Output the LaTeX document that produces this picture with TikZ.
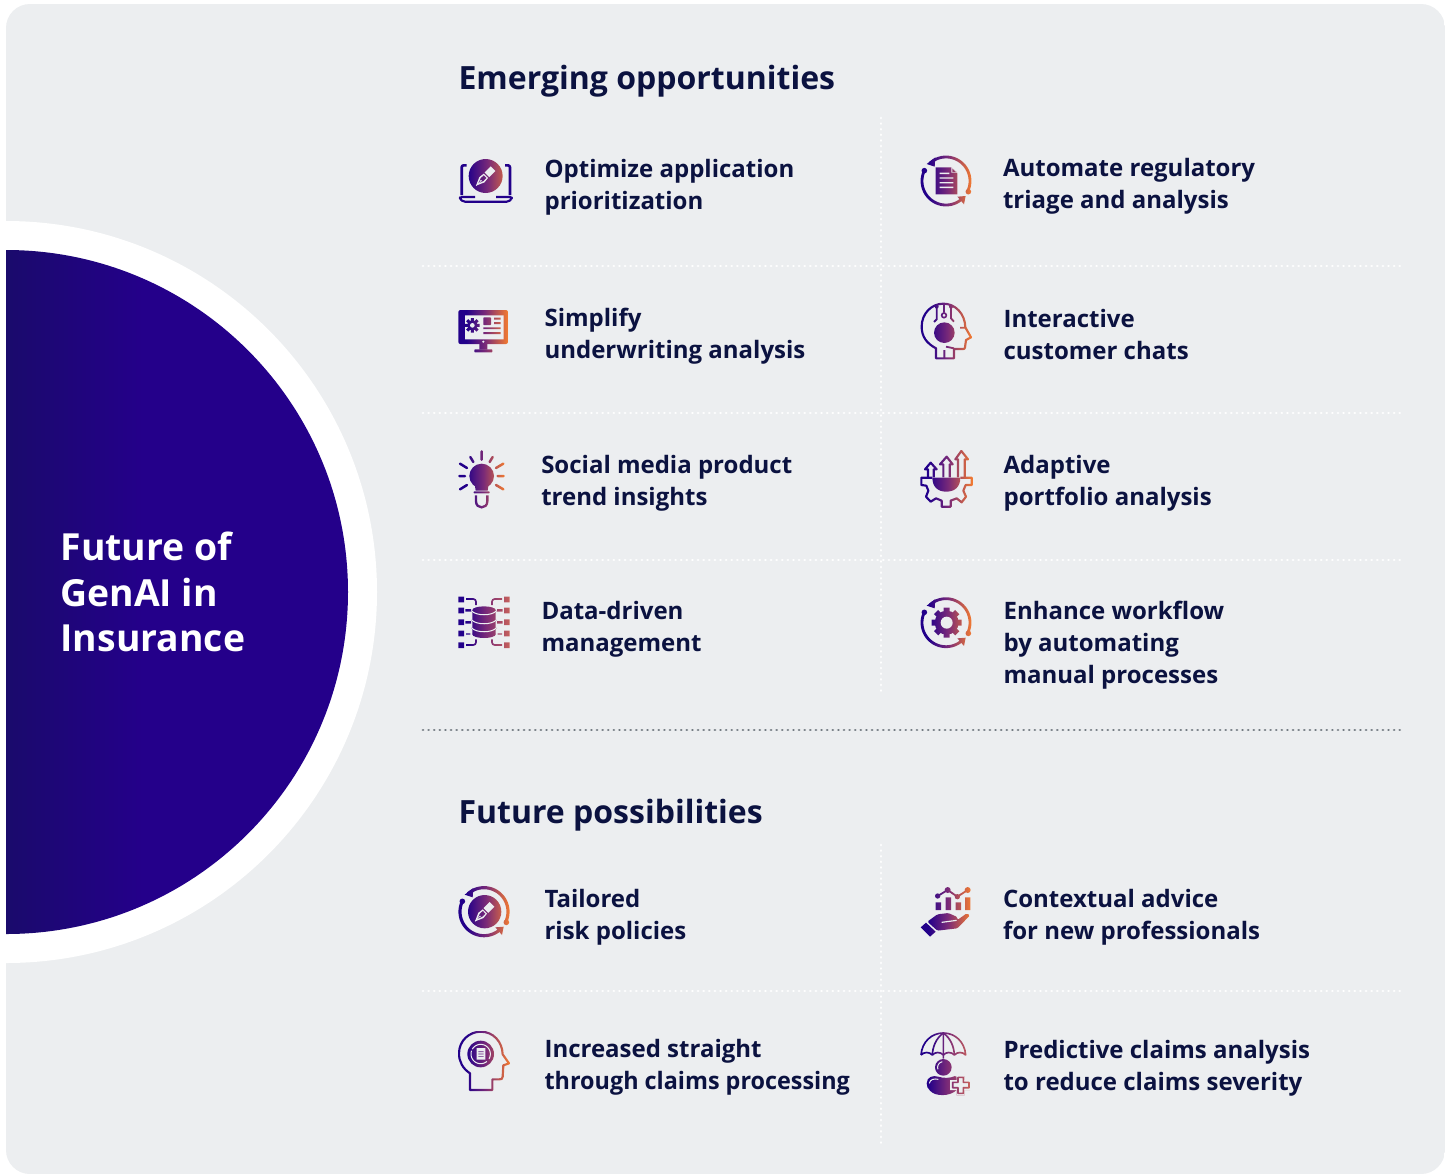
\documentclass[tikz,border=0pt]{standalone}
\usepackage{fontspec}
\usepackage{graphicx}
\setmainfont{Open Sans}
\usetikzlibrary{fadings}
\definecolor{gradA}{HTML}{22008A}
\definecolor{gradM}{HTML}{7A2A78}
\definecolor{gradB}{HTML}{F47C30}
\definecolor{gradS}{HTML}{C8625A}
\definecolor{cardbg}{HTML}{ECEEF0}
\definecolor{navy}{HTML}{0B1240}
\definecolor{greydot}{HTML}{737B82}
\definecolor{bigA}{HTML}{1A0A6C}
\definecolor{bigB}{HTML}{24008A}
\pgfdeclarehorizontalshading{bigshade}{100bp}{color(0bp)=(bigA); color(50bp)=(bigA); color(60bp)=(bigB); color(100bp)=(bigB)}
\pgfdeclarehorizontalshading{iconshade}{100bp}{color(0bp)=(gradA); color(33bp)=(gradA); color(52bp)=(gradM); color(75bp)=(gradB); color(100bp)=(gradB)}
\pgfdeclarehorizontalshading{iconsalmon}{100bp}{color(0bp)=(gradA); color(33bp)=(gradA); color(52bp)=(gradM); color(75bp)=(gradS); color(100bp)=(gradS)}
\tikzset{
  zw/.style={line width=#1*.25pt},
  itemtext/.style={anchor=west,inner sep=0pt,align=left,text=navy,font=\fontsize{18}{24}\selectfont\bfseries},
  headtext/.style={anchor=west,inner sep=0pt,text=navy,font=\fontsize{24}{30}\selectfont\bfseries},
  whitedots/.style={white,line width=2.2pt,line cap=round,dash pattern=on 0.01pt off 4.2pt},
  greydots/.style={greydot,line width=2.2pt,line cap=round,dash pattern=on 0.01pt off 4.2pt},
}
\newcommand{\cyclearcs}[3]{% cx cy width
  \begin{scope}[shift={(#1,#2)}]
  \draw[line width=#3*.25pt] plot[domain=-132:25,samples=50] ({72*cos(\x)},{72*sin(\x)});
  \draw[line width=#3*.25pt] plot[domain=50:205,samples=50] ({72*cos(\x)},{72*sin(\x)});
  \fill (67,32) circle[radius=8.5];
  \fill (-65,-31) circle[radius=8.5];
  \fill (-58,-51) -- (-32,-71) -- (-34,-43) -- cycle;
  \fill (59,45) -- (34,47) -- (54,70) -- cycle;
  \end{scope}}
\newcommand{\penshape}[2]{% centre
  \begin{scope}[shift={(#1,#2)}]
  \fill[black] (-29,29) -- (-3.5,19.1) -- (7.1,5.7) -- (-5.7,-7.1) -- (-19.1,3.5) -- cycle;
  \fill[black] (10.5,3.5) -- (-3.5,-10.5) -- (14.9,-28.9) -- (28.9,-14.9) -- cycle;
  \fill[white] (-22,22) -- (-6,14.5) -- (2,6) -- (-5.5,-2) -- (-14.5,6) -- cycle;
  \fill[black] (-14,14) circle[radius=2.5];
  \draw[black,line width=.4pt] (-29,29) -- (-14,14);
  \end{scope}}
\newcommand{\gearshape}[5]{% cx cy outer body hole
  \begin{scope}[shift={(#1,#2)}]
  \fill (0,0) circle[radius=#4];
  \foreach \a in {0,45,...,315}{
    \fill[rotate=\a] (-#3*.2,-#3) rectangle (#3*.2,0);}
  \fill[black] (0,0) circle[radius=#5];
  \end{scope}}
\begin{tikzfadingfrompicture}[name=fA,x=.25pt,y=-.25pt,white]
  \useasboundingbox (57,55) rectangle (218,190);
  \fill (137,108) circle[radius=51];
  \penshape{137}{108}
\end{tikzfadingfrompicture}
\begin{tikzfadingfrompicture}[name=fB,x=.25pt,y=-.25pt,white]
  \useasboundingbox (55,508) rectangle (204,637);
  \fill[rounded corners=1.5pt] (55,510) rectangle (204,612);
  \fill[black] (75,526) rectangle (191,598);
  \fill[black] (130,605) circle[radius=3.5];
  \gearshape{97}{556}{22}{16}{7}
  \fill[rounded corners=.5pt] (130,532) rectangle (153,555);
  \fill (162,533) rectangle (182,539);
  \fill (162,546) rectangle (182,552);
  \fill (130,562) rectangle (182,567);
  \fill (130,576) rectangle (182,582);
  \fill (118,612) rectangle (142,629);
  \fill[rounded corners=.5pt] (103,628) rectangle (157,637);
\end{tikzfadingfrompicture}
\begin{tikzfadingfrompicture}[name=fC,x=.25pt,y=-.25pt,white]
  \useasboundingbox (54,30) rectangle (195,206);
  \begin{scope}[zw=7.5,line cap=round]
  \draw (125,34) -- (125,59);
  \draw (91,51) -- (100,66);
  \draw (60,71) -- (81,84);
  \draw (58,108) -- (75,108);
  \draw (60,148) -- (81,135);
  \draw (158,51) -- (149,66);
  \draw (190,71) -- (168,84);
  \draw (191,108) -- (173,108);
  \draw (190,148) -- (168,135);
  \end{scope}
  \fill (125,108) circle[radius=37];
  \fill (103,125) -- (147,125) -- (143,152) -- (107,152) -- cycle;
  \fill[rounded corners=.5pt] (101,154) rectangle (149,160);
  \draw[zw=7] (108,166) -- (108,184) .. controls (108,208) and (142,208) .. (142,184) -- (142,166);
\end{tikzfadingfrompicture}
\begin{tikzfadingfrompicture}[name=fD,x=.25pt,y=-.25pt,white]
  \useasboundingbox (54,468) rectangle (210,626);
  \foreach \y in {470,503,538,572,607}{
    \fill (55,\y) rectangle (72,\y+17);
    \fill (192,\y) rectangle (209,\y+17);}
  \draw[zw=5,rounded corners=2pt] (78,477) -- (108,477) -- (108,495);
  \draw[zw=5,rounded corners=2pt] (186,477) -- (156,477) -- (156,495);
  \draw[zw=5,rounded corners=2pt] (78,615) -- (108,615) -- (108,598);
  \draw[zw=5,rounded corners=2pt] (186,615) -- (156,615) -- (156,598);
  \draw[zw=7] (76,511) -- (93,511);
  \draw[zw=7] (76,547) -- (93,547);
  \draw[zw=4] (78,582) -- (91,582);
  \draw[zw=7] (188,511) -- (171,511);
  \draw[zw=7] (188,547) -- (171,547);
  \draw[zw=4] (186,582) -- (173,582);
  \fill (97,510) rectangle (167,583);
  \fill (132,510) ellipse[x radius=35,y radius=11];
  \fill (132,583) ellipse[x radius=35,y radius=11];
  \draw[black,zw=3] (95,513) .. controls (110,528) and (154,528) .. (169,513);
  \draw[black,zw=3] (95,540) .. controls (110,555) and (154,555) .. (169,540);
  \draw[black,zw=3] (95,564) .. controls (110,579) and (154,579) .. (169,564);
\end{tikzfadingfrompicture}
\begin{tikzfadingfrompicture}[name=fE,x=.25pt,y=-.25pt,white]
  \useasboundingbox (60,45) rectangle (216,201);
  \cyclearcs{138}{123}{8.5}
  \fill (107,82) -- (152,82) -- (172,100) -- (172,163) -- (107,163) -- cycle;
  \fill[black] (154,82) -- (172,98) -- (154,98) -- cycle;
  \fill[white] (157,86) -- (168,96) -- (157,96) -- cycle;
  \fill[black] (119,98) rectangle (148,102);
  \fill[black] (119,112) rectangle (160,116);
  \fill[black] (119,126) rectangle (160,130);
  \fill[black] (119,140) rectangle (160,144);
\end{tikzfadingfrompicture}
\begin{tikzfadingfrompicture}[name=fF,x=.25pt,y=-.25pt,white]
  \useasboundingbox (60,488) rectangle (216,658);
  \draw[zw=6.5,line join=round] (108,655) -- (108,625) .. controls (80,610) and (65,590) .. (65,560) .. controls (65,520) and (95,491) .. (130,491) .. controls (165,491) and (195,520) .. (196,562) -- (213,592) -- (198,600) -- (195,622) .. controls (195,627) and (192,627) .. (188,627) -- (162,627) -- (162,655) -- cycle;
  \draw[zw=5.5] (138,620) -- (162,625);
  \draw[zw=5.5] (133,630) -- (133,655);
  \fill (133,578) circle[radius=31];
  \draw[zw=5.5] (132,492) -- (132,518);
  \draw[zw=5] (132,526) circle[radius=7];
  \fill (110,500) circle[radius=6];
  \draw[zw=5.5] (110,500) -- (110,538) -- (102,546);
  \fill (153,500) circle[radius=6];
  \draw[zw=5.5] (153,500) -- (153,535) -- (162,545);
  \draw[zw=5.5] (180,563) -- (197,563);
\end{tikzfadingfrompicture}
\begin{tikzfadingfrompicture}[name=fG,x=.25pt,y=-.25pt,white]
  \useasboundingbox (60,30) rectangle (218,203);
  \draw[zw=6.5,line join=round] (84,112) -- (84,88) -- (75,88) -- (92,68) -- (110,88) -- (101,88) -- (101,112);
  \draw[zw=6.5,line join=round] (130,112) -- (130,73) -- (120,73) -- (140,50) -- (158,73) -- (149,73) -- (149,112);
  \draw[zw=6.5,line join=round] (174,112) -- (174,58) -- (166,58) -- (184,33) -- (204,58) -- (194,58) -- (194,112);
  \fill (97,113) -- (181,113) .. controls (181,140) and (165,155) .. (139,155) .. controls (113,155) and (97,140) .. (97,113) -- cycle;
  \draw[zw=6.5,line join=round] (97,113) -- (64,113) -- (64,135) -- (79,137) -- (85,152) -- (78,170) -- (92,185) -- (108,175) -- (125,182) -- (125,200) -- (152,200) -- (152,182) -- (170,175) -- (185,187) -- (198,170) -- (190,152) -- (197,135) -- (215,135) -- (215,113) -- (181,113);
\end{tikzfadingfrompicture}
\begin{tikzfadingfrompicture}[name=fH,x=.25pt,y=-.25pt,white]
  \useasboundingbox (60,470) rectangle (216,626);
  \cyclearcs{138}{548}{8.5}
  \gearshape{140}{548}{45}{36}{18}
\end{tikzfadingfrompicture}
\begin{tikzfadingfrompicture}[name=fI,x=.25pt,y=-.25pt,white]
  \useasboundingbox (54,47) rectangle (210,203);
  \cyclearcs{132}{125}{9.5}
  \fill (134,125) circle[radius=50];
  \penshape{134}{125}
\end{tikzfadingfrompicture}
\begin{tikzfadingfrompicture}[name=fJ,x=.25pt,y=-.25pt,white]
  \useasboundingbox (54,483) rectangle (210,663);
  \draw[zw=6.5,line join=round] (90,660) -- (90,610) .. controls (68,595) and (57,575) .. (57,550) .. controls (57,512) and (88,485) .. (122,485) .. controls (160,485) and (187,515) .. (188,553) -- (207,580) -- (190,586) -- (188,620) .. controls (188,627) and (184,628) .. (178,628) -- (157,628) -- (157,660) -- cycle;
  \fill (122,552) circle[radius=40];
  \draw[black,zw=3] plot[domain=-150:30,samples=30] ({122+29*cos(\x)},{552+29*sin(\x)});
  \draw[black,zw=3] plot[domain=50:200,samples=30] ({122+29*cos(\x)},{552+29*sin(\x)});
  \fill[black] (110,534) rectangle (136,569);
  \fill[white] (115,544) rectangle (131,546);
  \fill[white] (115,551) rectangle (131,553);
  \fill[white] (115,558) rectangle (131,560);
\end{tikzfadingfrompicture}
\begin{tikzfadingfrompicture}[name=fK,x=.25pt,y=-.25pt,white]
  \useasboundingbox (60,50) rectangle (214,200);
  \fill (107,97) rectangle (123,120);
  \fill (137,82) rectangle (153,120);
  \fill (167,97) rectangle (183,120);
  \fill (195,82) rectangle (211,120);
  \draw[zw=5.5] (113,78) -- (143,60) -- (172,80) -- (203,60);
  \fill (113,78) circle[radius=8];
  \fill (143,60) circle[radius=9];
  \fill (172,80) circle[radius=8];
  \fill (203,60) circle[radius=9];
  \fill[rounded corners=1pt] (82,155) -- (112,133) -- (145,129) -- (172,141) -- (172,150) -- (200,130) -- (210,136) -- (172,175) -- (112,182) -- cycle;
  \draw[black,zw=3.5] (125,157) -- (170,151);
  \fill (62,172) -- (78,158) -- (107,185) -- (90,200) -- cycle;
\end{tikzfadingfrompicture}
\begin{tikzfadingfrompicture}[name=fL,x=.25pt,y=-.25pt,white]
  \useasboundingbox (60,485) rectangle (210,677);
  \draw[zw=5,line join=round] (63,555) .. controls (66,515) and (95,489) .. (130,489) .. controls (165,489) and (194,515) .. (197,555) .. controls (188,545) and (172,545) .. (163,555) .. controls (155,545) and (138,545) .. (130,555) .. controls (122,545) and (105,545) .. (97,555) .. controls (88,545) and (72,545) .. (63,555);
  \draw[zw=5] (130,489) -- (130,566);
  \draw[zw=5] (130,489) .. controls (108,505) and (98,530) .. (97,555);
  \draw[zw=5] (130,489) .. controls (152,505) and (162,530) .. (163,555);
  \fill (130,592) circle[radius=25];
  \draw[black,zw=3] plot[domain=160:260,samples=20] ({130+17*cos(\x)},{592+17*sin(\x)});
  \fill (80,640) .. controls (80,620) and (100,615) .. (115,620) .. controls (130,625) and (150,625) .. (165,618) .. controls (180,625) and (180,650) .. (170,660) .. controls (150,680) and (105,680) .. (90,662) .. controls (83,655) and (80,650) .. (80,640) -- cycle;
  \draw[black,zw=3] (88,640) .. controls (90,628) and (102,625) .. (115,628);
  \fill[black] (170,618) -- (194,618) -- (194,630) -- (214,630) -- (214,660) -- (194,660) -- (194,676) -- (170,676) -- (170,660) -- (150,660) -- (150,630) -- (170,630) -- cycle;
  \draw[zw=5,line join=round] (174,622) -- (190,622) -- (190,637) -- (207,637) -- (207,653) -- (190,653) -- (190,670) -- (174,670) -- (174,653) -- (158,653) -- (158,637) -- (174,637) -- cycle;
\end{tikzfadingfrompicture}
\newcommand{\putfadeS}[8]{\path[shading=#8,shading angle=0,path fading=#1,fit fading=false,fading transform={shift={({#2+(#4+#6)/6},{#3+(#5+#7)/6})}}] ({#2+#4/3},{#3+#5/3}) rectangle ({#2+#6/3},{#3+#7/3});}
\newcommand{\putfade}[7]{\putfadeS{#1}{#2}{#3}{#4}{#5}{#6}{#7}{iconshade}}
\begin{document}
\begin{tikzpicture}[x=.75pt,y=-.75pt]
  \useasboundingbox (0,0) rectangle (1452,1175);
  \fill[white] (0,0) rectangle (1452,1175);
  \begin{scope}
    \path[clip,rounded corners=18pt] (6,4) rectangle (1445,1174);
    \fill[cardbg] (6,4) rectangle (1445,1174);
    \fill[white] (6,592) circle[radius=371];
    \path[shading=bigshade,shading angle=0] (6,592) circle[radius=342];
  \end{scope}
  % dividers
  \foreach \y in {266,413,560,991}{
    \draw[whitedots] (423,\y) -- (1405,\y);}
  \draw[whitedots] (881,118) -- (881,695);
  \draw[whitedots] (881,845) -- (881,1143);
  \draw[greydots] (423,730) -- (1405,730);
  % headings
  \node[headtext] (h1) at (458.3,81) {Emerging opportunities};
  \node[headtext] (h2) at (458.3,815) {Future possibilities};
  \node[anchor=west,inner sep=0pt,align=left,text=white,font=\fontsize{28}{34.1}\selectfont\bfseries] (title) at (60.3,592) {Future of\\GenAI in\\Insurance};
  % items
  \node[itemtext] (t1) at (544.3,187.5) {Optimize application\\prioritization};
  \node[itemtext] (t2) at (544.3,336.5) {Simplify\\underwriting analysis};
  \node[itemtext] (t3) at (541,483.5) {Social media product\\trend insights};
  \node[itemtext] (t4) at (541.3,629.5) {Data-driven\\management};
  \node[itemtext] (t5) at (1002.8,186.5) {Automate regulatory\\triage and analysis};
  \node[itemtext] (t6) at (1003.3,334.5) {Interactive\\customer chats};
  \node[itemtext] (t7) at (1003.3,483.5) {Adaptive\\portfolio analysis};
  \node[itemtext] (t8) at (1003.3,645.5) {Enhance workflow\\by automating\\manual processes};
  \node[itemtext] (t9) at (544.3,917.5) {Tailored\\risk policies};
  \node[itemtext] (t10) at (544.3,1067.5) {Increased straight\\\scalebox{0.974}[1]{through claims processing}};
  \node[itemtext] (t11) at (1002.8,917.5) {Contextual advice\\for new professionals};
  \node[itemtext] (t12) at (1003.3,1068.5) {Predictive claims analysis\\to reduce claims severity};
  % laptop body
  \begin{scope}[shift={(440,140)},x=.25pt,y=-.25pt]
    \draw[gradA,zw=8,line join=round,rounded corners=1.5pt] (80,76) -- (65,76) -- (65,165);
    \draw[gradA,zw=8,line join=round,rounded corners=1.5pt] (195,76) -- (210,76) -- (210,165);
    \draw[gradA,zw=6.5,line join=round,rounded corners=1.2pt] (105,171) -- (60,171) -- (60,177) -- (70,185) -- (205,185) -- (215,177) -- (215,171) -- (168,171);
  \end{scope}
  % icons
  \putfade{fA}{440}{140}{57}{55}{218}{190}
  \putfade{fB}{440}{140}{55}{508}{204}{637}
  \putfade{fC}{440}{440}{54}{30}{195}{206}
  \putfadeS{fD}{440}{440}{54}{468}{210}{626}{iconsalmon}
  \putfade{fE}{900}{140}{60}{45}{216}{201}
  \putfade{fF}{900}{140}{60}{488}{216}{658}
  \putfade{fG}{900}{440}{60}{30}{218}{203}
  \putfade{fH}{900}{440}{60}{470}{216}{626}
  \putfade{fI}{440}{870}{54}{47}{210}{203}
  \putfade{fJ}{440}{870}{54}{483}{210}{663}
  \putfade{fK}{900}{870}{60}{50}{214}{200}
  \putfadeS{fL}{900}{870}{60}{485}{210}{677}{iconsalmon}
\end{tikzpicture}
\end{document}
